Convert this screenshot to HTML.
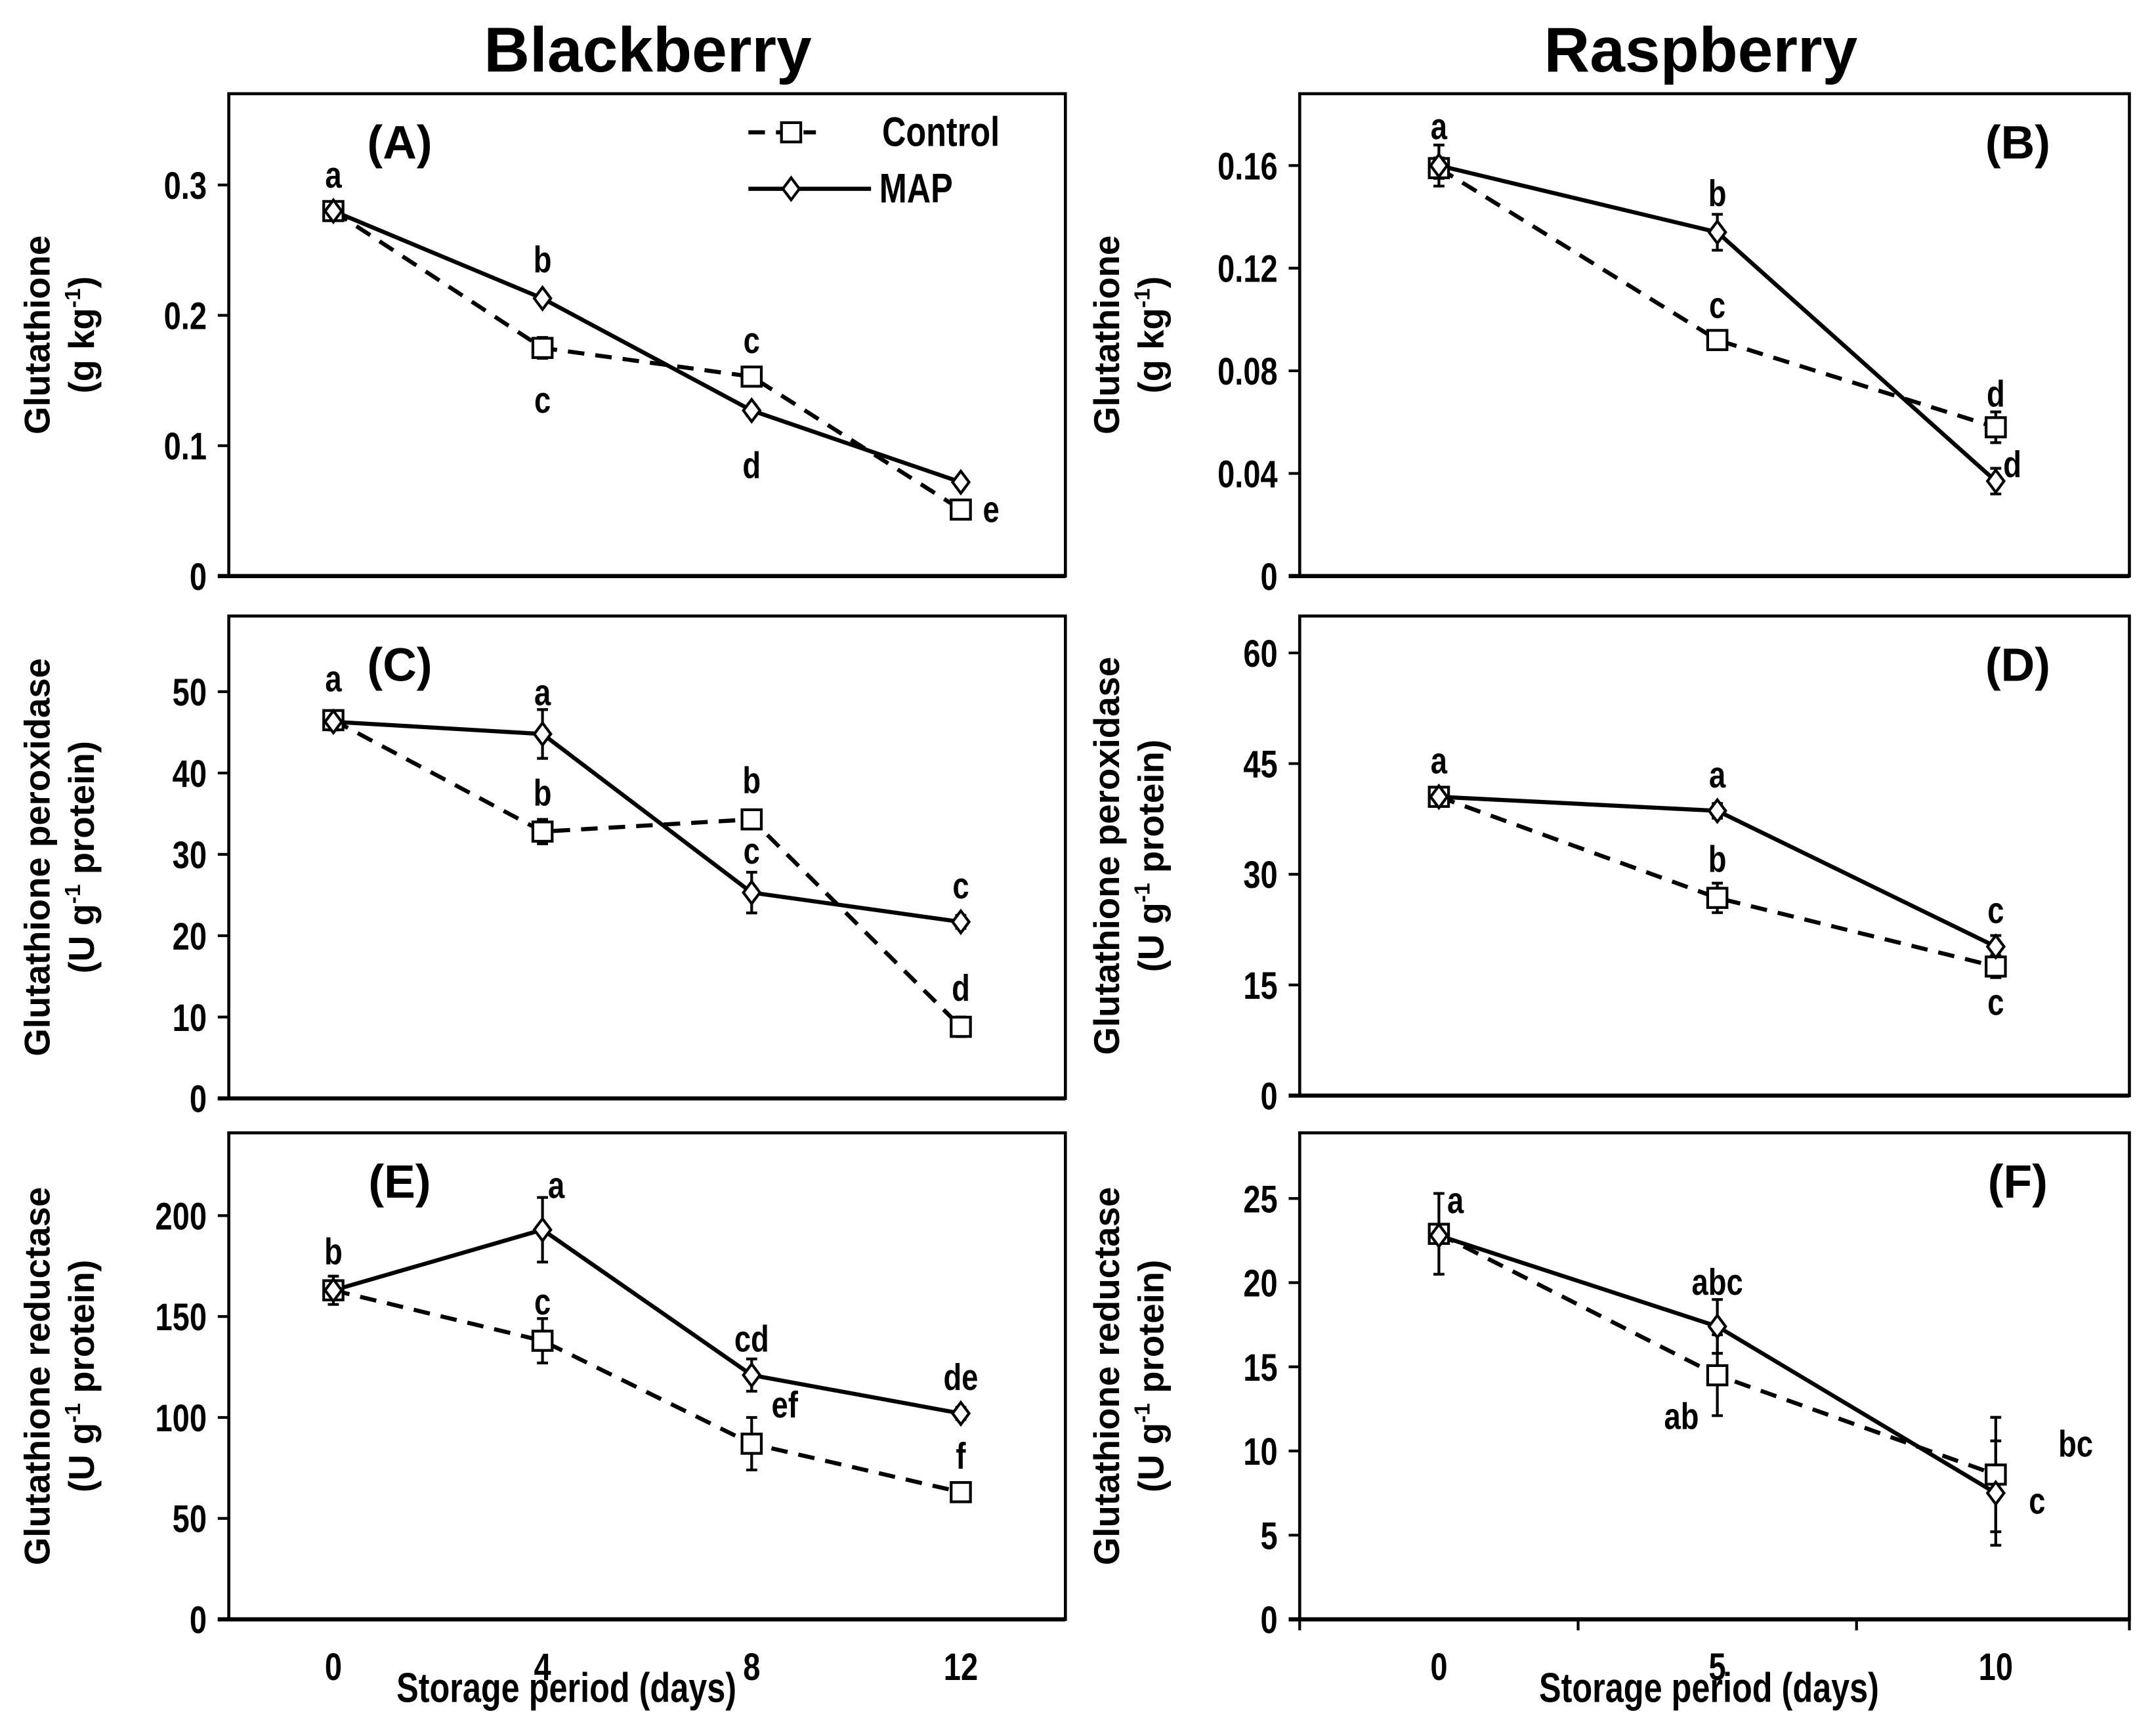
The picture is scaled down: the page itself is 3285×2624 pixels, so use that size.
<!DOCTYPE html>
<html><head><meta charset="utf-8"><style>
html,body{margin:0;padding:0;background:#fff;}
svg{display:block;}
text{font-family:"Liberation Sans",sans-serif;font-weight:bold;fill:#000;}
</style></head><body>
<svg id="chart" width="3285" height="2624" viewBox="0 0 1564.3 1249.5" preserveAspectRatio="none" xmlns="http://www.w3.org/2000/svg">
<text x="470" y="52" font-size="46" text-anchor="middle">Blackberry</text>
<text x="1234" y="52" font-size="46" text-anchor="middle">Raspberry</text>
</svg>
<script>
const daysBB = [0, 4, 8, 12];
const daysRB = [0, 5, 10];
const aControl = [0.280, 0.175, 0.153, 0.051];
const aControlErr = [0.004, 0.008, 0.005, 0.006];
const aMAP = [0.280, 0.213, 0.127, 0.072];
const aMAPErr = [0.003, 0.003, 0.004, 0.003];
const aTicks = [0, 0.1, 0.2, 0.3];
const aTickLabels = ["0", "0.1", "0.2", "0.3"];
const bControl = [0.159, 0.092, 0.058];
const bControlErr = [0.004, 0.003, 0.006];
const bMAP = [0.160, 0.134, 0.037];
const bMAPErr = [0.008, 0.007, 0.005];
const bTicks = [0, 0.04, 0.08, 0.12, 0.16];
const bTickLabels = ["0", "0.04", "0.08", "0.12", "0.16"];
const cControl = [46.5, 32.8, 34.3, 8.8];
const cControlErr = [1.0, 1.5, 1.0, 1.2];
const cMAP = [46.3, 44.8, 25.3, 21.7];
const cMAPErr = [1.0, 3.0, 2.5, 0.8];
const cTicks = [0, 10, 20, 30, 40, 50];
const cTickLabels = ["0", "10", "20", "30", "40", "50"];
const dControl = [40.5, 26.8, 17.5];
const dControlErr = [1.0, 2.0, 1.5];
const dMAP = [40.5, 38.6, 20.2];
const dMAPErr = [1.0, 1.0, 1.5];
const dTicks = [0, 15, 30, 45, 60];
const dTickLabels = ["0", "15", "30", "45", "60"];
const eControl = [163, 138, 87, 63];
const eControlErr = [7, 11, 13, 4];
const eMAP = [163, 193, 121, 102];
const eMAPErr = [4, 16, 8, 3];
const eTicks = [0, 50, 100, 150, 200];
const eTickLabels = ["0", "50", "100", "150", "200"];
const fControl = [22.9, 14.5, 8.6];
const fControlErr = [2.4, 2.4, 3.4];
const fMAP = [22.8, 17.4, 7.5];
const fMAPErr = [0.4, 1.6, 3.1];
const fTicks = [0, 5, 10, 15, 20, 25];
const fTickLabels = ["0", "5", "10", "15", "20", "25"];
const xLabelsBB = ["0", "4", "8", "12"];
const xLabelsRB = ["0", "5", "10"];

const NS = "http://www.w3.org/2000/svg";
const svg = document.getElementById("chart");
function mk(tag, attrs, parent) {
  const e = document.createElementNS(NS, tag);
  for (const k in attrs) e.setAttribute(k, attrs[k]);
  (parent || svg).appendChild(e);
  return e;
}
// condensed text: horizontal scale
function ntext(parent, x, y, size, anchor, str) {
  const t = mk("text", {transform:`translate(${x},${y}) scale(0.8,1)`, x:0, y:0, "font-size":size, "text-anchor":anchor}, parent);
  t.textContent = str;
  return t;
}

const panels = [
  {id:"a", label:"(A)", L:166, R:773, T:68, B:418, xmin:-2, xmax:14, ymax:0.37, x:daysBB, c:aControl, ce:aControlErr, m:aMAP, me:aMAPErr, ticks:aTicks, tl:aTickLabels,
   t1:"Glutathione", t2:"(g kg", sup:"-1", t2b:")", xl:null, legend:true,
   letters:[["c",0,0,-26,"a"],["m",1,0,-28,"b"],["c",1,0,38,"c"],["c",2,0,-26,"c"],["m",2,0,40,"d"],["c",3,22,0,"e"]]},
  {id:"b", label:"(B)", L:943, R:1545, T:68, B:418, xmin:-2.5, xmax:12.4, ymax:0.188, x:daysRB, c:bControl, ce:bControlErr, m:bMAP, me:bMAPErr, ticks:bTicks, tl:bTickLabels,
   t1:"Glutathione", t2:"(g kg", sup:"-1", t2b:")", xl:null,
   letters:[["c",0,0,-30,"a"],["m",1,0,-28,"b"],["c",1,0,-25,"c"],["c",2,0,-24,"d"],["m",2,12,-12,"d"]]},
  {id:"c", label:"(C)", L:166, R:773, T:447, B:797, xmin:-2, xmax:14, ymax:59.3, x:daysBB, c:cControl, ce:cControlErr, m:cMAP, me:cMAPErr, ticks:cTicks, tl:cTickLabels,
   t1:"Glutathione peroxidase", t2:"(U g", sup:"-1", t2b:" protein)", xl:null,
   letters:[["c",0,0,-30,"a"],["m",1,0,-30,"a"],["c",1,0,-28,"b"],["c",2,0,-28,"b"],["m",2,0,-30,"c"],["m",3,0,-26,"c"],["c",3,0,-28,"d"]]},
  {id:"d", label:"(D)", L:943, R:1545, T:447, B:795, xmin:-2.5, xmax:12.4, ymax:65, x:daysRB, c:dControl, ce:dControlErr, m:dMAP, me:dMAPErr, ticks:dTicks, tl:dTickLabels,
   t1:"Glutathione peroxidase", t2:"(U g", sup:"-1", t2b:" protein)", xl:null,
   letters:[["c",0,0,-26,"a"],["m",1,0,-26,"a"],["c",1,0,-28,"b"],["m",2,0,-26,"c"],["c",2,0,26,"c"]]},
  {id:"e", label:"(E)", L:166, R:773, T:822, B:1175, xmin:-2, xmax:14, ymax:241, x:daysBB, c:eControl, ce:eControlErr, m:eMAP, me:eMAPErr, ticks:eTicks, tl:eTickLabels,
   t1:"Glutathione reductase", t2:"(U g", sup:"-1", t2b:" protein)", xl:xLabelsBB,
   letters:[["c",0,0,-28,"b"],["m",1,10,-32,"a"],["c",1,0,-28,"c"],["m",2,0,-26,"cd"],["c",2,24,-28,"ef"],["m",3,0,-26,"de"],["c",3,0,-26,"f"]]},
  {id:"f", label:"(F)", L:943, R:1545, T:822, B:1175, xmin:-2.5, xmax:12.4, ymax:28.9, x:daysRB, c:fControl, ce:fControlErr, m:fMAP, me:fMAPErr, ticks:fTicks, tl:fTickLabels,
   t1:"Glutathione reductase", t2:"(U g", sup:"-1", t2b:" protein)", xl:xLabelsRB, rtick:true,
   letters:[["c",0,12,-24,"a"],["m",1,0,-32,"abc"],["c",1,-26,30,"ab"],["c",2,58,-22,"bc"],["m",2,30,6,"c"]]}
];

function square(g, x, y) {
  const s = mk("rect", {x:x-7, y:y-7, width:14, height:14, fill:"#fff", stroke:"#000", "stroke-width":2}, g);
  
  
}
function diamond(g, x, y) {
  const d = mk("path", {d:`M${x} ${y-8} L${x+6} ${y} L${x} ${y+8} L${x-6} ${y} Z`, fill:"#fff", stroke:"#000", "stroke-width":2}, g);
  
  
}

panels.forEach(p => {
  const g = mk("g", {});
  
  
  const sx = v => p.L + (v - p.xmin) / (p.xmax - p.xmin) * (p.R - p.L);
  const sy = v => p.B - v / p.ymax * (p.B - p.T);
  const frame = mk("rect", {x:p.L, y:p.T, width:p.R-p.L, height:p.B-p.T, fill:"none", stroke:"#000", "stroke-width":2.2}, g);
  
  
  const xa = mk("line", {x1:p.L-8, x2:p.R, y1:p.B, y2:p.B, stroke:"#000", "stroke-width":3}, g);
  
  
  p.ticks.forEach((t, i) => {
    const tk = mk("line", {x1:p.L-8, x2:p.L, y1:sy(t), y2:sy(t), stroke:"#000", "stroke-width":2}, g);
    
    
    const tl = ntext(g, p.L-16, sy(t)+10, 28, "end", p.tl[i]);
    
    
  });
  if (p.rtick) {
    [-2.5, 2.5, 7.5, 12.4].forEach(v => {
      const tk = mk("line", {x1:sx(v), x2:sx(v), y1:p.B, y2:p.B+8, stroke:"#000", "stroke-width":2}, g);
      
      
    });
  }
  if (p.xl) {
    p.x.forEach((d, i) => {
      const t = ntext(g, sx(d), p.B+44, 28, "middle", p.xl[i]);
      
      
    });
    const xt = ntext(g, (p.id==="e"?411:1240), p.B+60, 30, "middle", "Storage period (days)");
    
    
  }
  const cx = p.L < 500 ? 36 : 812, cy = (p.T + p.B) / 2;
  const yt = mk("text", {transform:`translate(${cx},${cy}) rotate(-90)`, "font-size":26, "text-anchor":"middle"}, g);
  yt.textContent = p.t1;
  
  
  const yt2 = mk("text", {transform:`translate(${cx+32},${cy}) rotate(-90)`, "font-size":26, "text-anchor":"middle"}, g);
  
  
  const s1 = mk("tspan", {}, yt2); s1.textContent = p.t2;
  const s2 = mk("tspan", {"font-size":16, dy:-10}, yt2); s2.textContent = p.sup;
  const s3 = mk("tspan", {dy:10}, yt2); s3.textContent = p.t2b;
  const pl = mk("text", {x:p.L < 500 ? 290 : 1464, y:p.T+47, "font-size":34, "text-anchor":"middle"}, g);
  pl.textContent = p.label;
  
  
  const cpts = p.x.map((d, i) => sx(d) + "," + sy(p.c[i])).join(" ");
  const mpts = p.x.map((d, i) => sx(d) + "," + sy(p.m[i])).join(" ");
  const cl = mk("polyline", {points:cpts, fill:"none", stroke:"#000", "stroke-width":3, "stroke-dasharray":"12,8"}, g);
  
  
  const ml = mk("polyline", {points:mpts, fill:"none", stroke:"#000", "stroke-width":3}, g);
  
  
  [[p.c, p.ce], [p.m, p.me]].forEach(([vals, errs]) => {
    p.x.forEach((d, i) => {
      const x = sx(d), y1 = sy(vals[i] - errs[i]), y2 = sy(vals[i] + errs[i]);
      const eb = mk("path", {d:`M${x} ${y1} L${x} ${y2} M${x-4} ${y1} L${x+4} ${y1} M${x-4} ${y2} L${x+4} ${y2}`, stroke:"#000", "stroke-width":2, fill:"none"}, g);
      
      
    });
  });
  p.x.forEach((d, i) => square(g, sx(d), sy(p.c[i])));
  p.x.forEach((d, i) => diamond(g, sx(d), sy(p.m[i])));
  p.letters.forEach(([s, i, dx, dy, txt]) => {
    const v = s === "c" ? p.c[i] : p.m[i];
    const t = ntext(g, sx(p.x[i]) + dx, sy(v) + dy + 9, 27, "middle", txt);
    
    
  });
  if (p.legend) {
    const lg = mk("g", {}, g);
    
    
    mk("line", {x1:543, x2:592, y1:96, y2:96, stroke:"#000", "stroke-width":3, "stroke-dasharray":"12,8"}, lg);
    square(lg, 574, 96);
    const t1 = ntext(lg, 640, 106, 30, "start", "Control");
    
    
    mk("line", {x1:543, x2:632, y1:137, y2:137, stroke:"#000", "stroke-width":3}, lg);
    diamond(lg, 574, 137);
    const t2 = ntext(lg, 638, 147, 30, "start", "MAP");
    
    
  }
});
</script>
</body></html>
